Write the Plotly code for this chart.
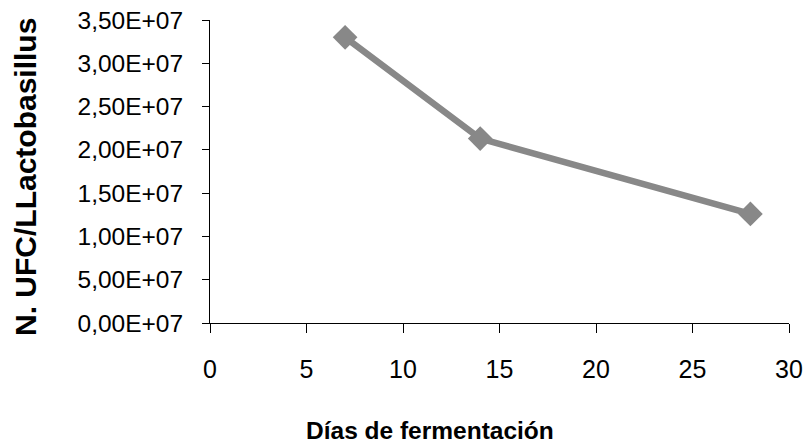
import plotly.graph_objects as go

dias = [7, 14, 28]
ufc = [3.30e7, 2.13e7, 1.26e7]

y_tickvals = [0, 5e6, 1e7, 1.5e7, 2e7, 2.5e7, 3e7, 3.5e7]
y_ticktext = ["0,00E+07", "5,00E+07", "1,00E+07", "1,50E+07", "2,00E+07",
              "2,50E+07", "3,00E+07", "3,50E+07"]
x_tickvals = [0, 5, 10, 15, 20, 25, 30]

x_title = "Días de fermentación"
y_title = "N. UFC/LLactobasillus"

FONT = "Liberation Sans, Arial"

fig = go.Figure()
fig.add_trace(go.Scatter(
    x=dias, y=ufc, mode="lines+markers",
    line=dict(color="#888888", width=6.5),
    marker=dict(symbol="diamond", size=19, color="#888888"),
    showlegend=False, hoverinfo="skip",
))

fig.update_layout(
    width=806, height=445,
    margin=dict(l=210, r=17, t=20, b=122),
    paper_bgcolor="white", plot_bgcolor="white",
    font=dict(family=FONT, size=21, color="black"),
)
fig.update_xaxes(
    range=[0, 30], tickvals=x_tickvals, ticks="outside", ticklen=9,
    tickcolor="black", showline=True, linecolor="black", linewidth=1,
    showgrid=False, zeroline=False, ticklabelstandoff=15,
    tickfont=dict(size=25), automargin=False, ticklabeloverflow="allow",
)
fig.update_yaxes(
    range=[0, 3.5e7], tickvals=y_tickvals, ticktext=y_ticktext,
    ticks="outside", ticklen=7, tickcolor="black",
    showline=True, linecolor="black", linewidth=1,
    showgrid=False, zeroline=False, ticklabelstandoff=14,
    tickfont=dict(size=24.5), automargin=False, ticklabeloverflow="allow",
)
pw = 806 - 210 - 17
ph = 445 - 20 - 122
fig.add_annotation(
    text="<b>" + x_title + "</b>", xref="paper", yref="paper",
    x=(430 - 210) / pw, y=-(430 - 323) / ph,
    xanchor="center", yanchor="middle", showarrow=False,
    font=dict(size=24.5, family=FONT),
)
fig.add_annotation(
    text="<b>" + y_title + "</b>", xref="paper", yref="paper",
    x=-(210 - 26) / pw, y=(323 - 177) / ph,
    xanchor="center", yanchor="middle", showarrow=False, textangle=-90,
    font=dict(size=30, family=FONT),
)

fig.write_html(
    "out.html",
    config={"displayModeBar": False},
    post_script="document.body.style.margin='0';document.body.style.overflow='hidden';",
)
